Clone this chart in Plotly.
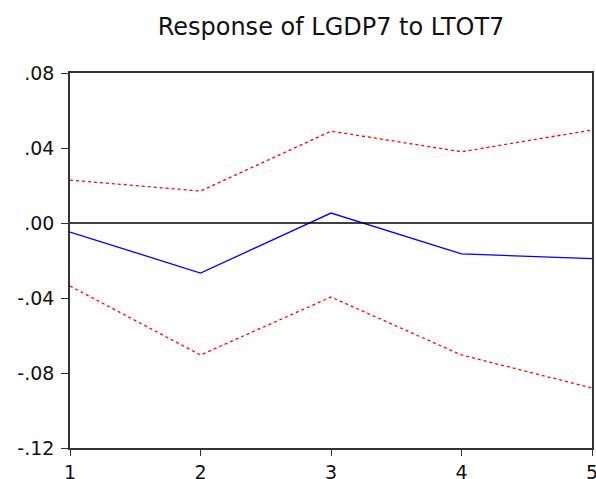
import plotly.graph_objects as go

periods = [1, 2, 3, 4, 5]
response = [-0.0048, -0.0267, 0.0053, -0.0165, -0.019]
upper = [0.0229, 0.017, 0.049, 0.038, 0.0496]
lower = [-0.0336, -0.0704, -0.0395, -0.0704, -0.088]
ytick_vals = [0.08, 0.04, 0.00, -0.04, -0.08, -0.12]
ytick_text = [".08", ".04", ".00", "-.04", "-.08", "-.12"]
xtick_vals = [1, 2, 3, 4, 5]

fig = go.Figure()
fig.add_trace(go.Scatter(x=periods, y=upper, mode="lines",
                         line=dict(color="#ff0000", width=1.3, dash="dot")))
fig.add_trace(go.Scatter(x=periods, y=lower, mode="lines",
                         line=dict(color="#ff0000", width=1.3, dash="dot")))
fig.add_trace(go.Scatter(x=periods, y=response, mode="lines",
                         line=dict(color="#0000ff", width=1.3)))
fig.add_hline(y=0, line=dict(color="black", width=1.5), layer="above")

fig.update_layout(
    width=596, height=479,
    margin=dict(l=70, r=4, t=73, b=31),
    paper_bgcolor="white", plot_bgcolor="white",
    showlegend=False,
    font=dict(family="DejaVu Sans", color="black"),
    title=dict(text="Response of LGDP7 to LTOT7", x=0.5, xref="paper", xanchor="center",
               y=0.944, yanchor="middle", font=dict(size=24, color="#111")),
)
fig.update_xaxes(range=[1, 5], tickvals=xtick_vals, showgrid=False, zeroline=False,
                 showline=True, linecolor="#333", linewidth=1.5, mirror=True,
                 ticks="outside", ticklen=6, tickcolor="#333",
                 ticklabeloverflow="allow", automargin=False,
                 tickfont=dict(size=19, color="#111"))
fig.update_yaxes(range=[-0.12, 0.08], tickvals=ytick_vals, ticktext=ytick_text,
                 showgrid=False, zeroline=False,
                 showline=True, linecolor="#333", linewidth=1.5, mirror=True,
                 ticks="outside", ticklen=7, tickcolor="#333",
                 ticklabelstandoff=3, ticklabeloverflow="allow", automargin=False,
                 tickfont=dict(size=19, color="#111"))

fig.write_html("out.html", config={"displayModeBar": False},
               post_script="document.body.style.margin='0';document.body.style.overflow='hidden';")
